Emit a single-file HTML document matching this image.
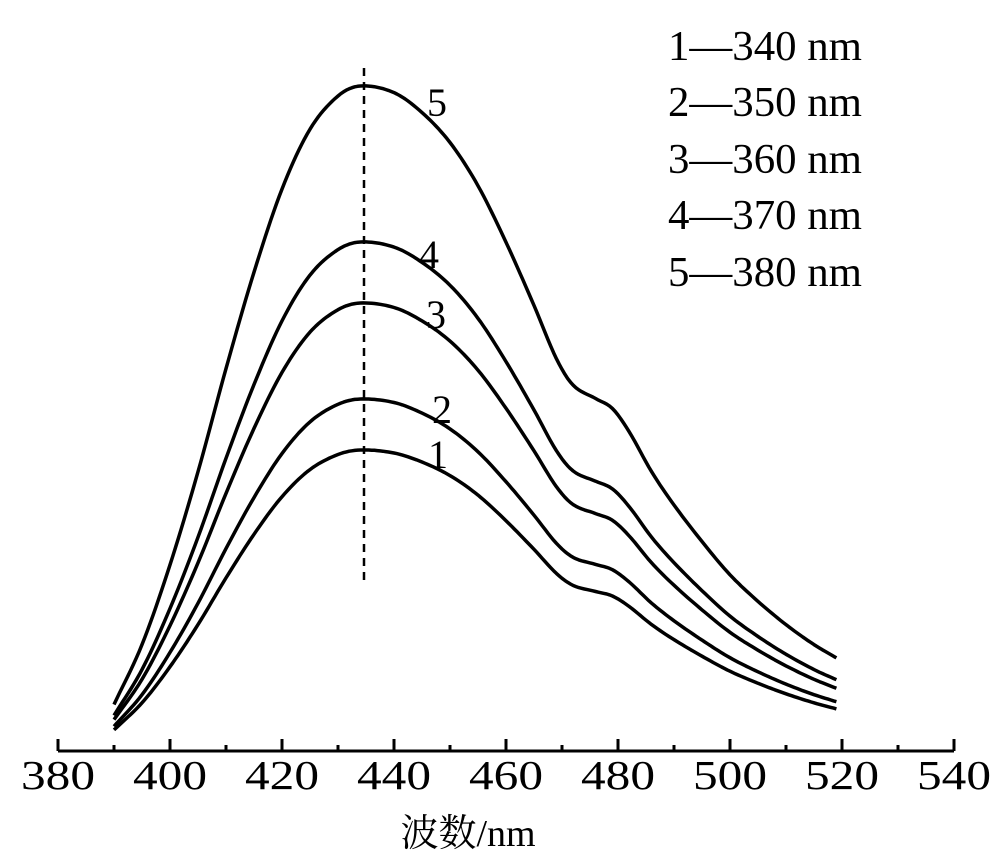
<!DOCTYPE html>
<html><head><meta charset="utf-8"><style>
html,body{margin:0;padding:0;background:#fff;}
svg{display:block;}
text{font-family:"Liberation Serif","Noto Serif CJK SC",serif;fill:#000;}
</style></head><body>
<svg id="s" width="1000" height="860" viewBox="0 0 1000 860" xmlns="http://www.w3.org/2000/svg">
<g id="ax" stroke="#000" stroke-width="3" fill="none"></g>
<line x1="364" y1="68" x2="364" y2="586" stroke="#000" stroke-width="2.5" stroke-dasharray="8,6"/>
<g id="curves" stroke="#000" stroke-width="3.5" fill="none" stroke-linejoin="round"></g>
<g font-size="41" text-anchor="middle" id="tl"></g>
<g font-size="40">
<text x="427" y="116">5</text>
<text x="419" y="268">4</text>
<text x="426" y="328">3</text>
<text x="432" y="423">2</text>
<text x="428" y="468">1</text>
</g>
<g font-size="42">
<text x="668" y="60" textLength="194" lengthAdjust="spacingAndGlyphs">1—340 nm</text>
<text x="668" y="116" textLength="194" lengthAdjust="spacingAndGlyphs">2—350 nm</text>
<text x="668" y="173" textLength="194" lengthAdjust="spacingAndGlyphs">3—360 nm</text>
<text x="668" y="229" textLength="194" lengthAdjust="spacingAndGlyphs">4—370 nm</text>
<text x="668" y="286" textLength="194" lengthAdjust="spacingAndGlyphs">5—380 nm</text>
</g>
<text x="468" y="846" font-size="38" text-anchor="middle">波数/nm</text>
</svg>
<script>
var NS="http://www.w3.org/2000/svg";
function X(l){return 58+(l-380)*5.6;}
var B=751;
var ax=document.getElementById('ax');
function ln(x1,y1,x2,y2){var e=document.createElementNS(NS,'line');e.setAttribute('x1',x1);e.setAttribute('y1',y1);e.setAttribute('x2',x2);e.setAttribute('y2',y2);ax.appendChild(e);}
ln(58,B,954,B);
var tl=document.getElementById('tl');
for(var l=380;l<=540;l+=10){
  var x=X(l);
  if(l%20==0){ln(x,B,x,739);
    var t=document.createElementNS(NS,'text');t.setAttribute('x',x);t.setAttribute('y',789);
    t.setAttribute('textLength',74);t.setAttribute('lengthAdjust','spacingAndGlyphs');t.textContent=l;tl.appendChild(t);}
  else ln(x,B,x,745);
}
var P=[[390,.07],[395,.16],[400,.28],[405,.42],[410,.575],[415,.72],[420,.845],[425,.935],[430,.985],[434,1.0],[440,.99],[445,.96],[450,.915],[455,.85],[460,.765],[465,.67],[469,.59],[472,.55],[476,.53],[479,.515],[482,.48],[486,.42],[490,.37],[495,.315],[500,.265],[505,.225],[510,.19],[515,.16],[519,.14]];
function shape(l){
  var i=0;while(i<P.length-2&&P[i+1][0]<l)i++;
  var p0=P[Math.max(i-1,0)],p1=P[i],p2=P[i+1],p3=P[Math.min(i+2,P.length-1)];
  var t=(l-p1[0])/(p2[0]-p1[0]);
  var m1=(p2[1]-p0[1])/(p2[0]-p0[0]||1)*(p2[0]-p1[0]);
  var m2=(p3[1]-p1[1])/(p3[0]-p1[0]||1)*(p2[0]-p1[0]);
  var t2=t*t,t3=t2*t;
  return (2*t3-3*t2+1)*p1[1]+(t3-2*t2+t)*m1+(-2*t3+3*t2)*p2[1]+(t3-t2)*m2;
}
var amps=[665,509,448,352,301];
var g=document.getElementById('curves');
amps.forEach(function(A){
  var d='';
  for(var l=390;l<=519.01;l+=0.5){
    var x=X(l),y=B-A*shape(l);
    d+=(d?'L':'M')+x.toFixed(1)+' '+y.toFixed(1);
  }
  var p=document.createElementNS(NS,'path');p.setAttribute('d',d);g.appendChild(p);
});
</script>
</body></html>
